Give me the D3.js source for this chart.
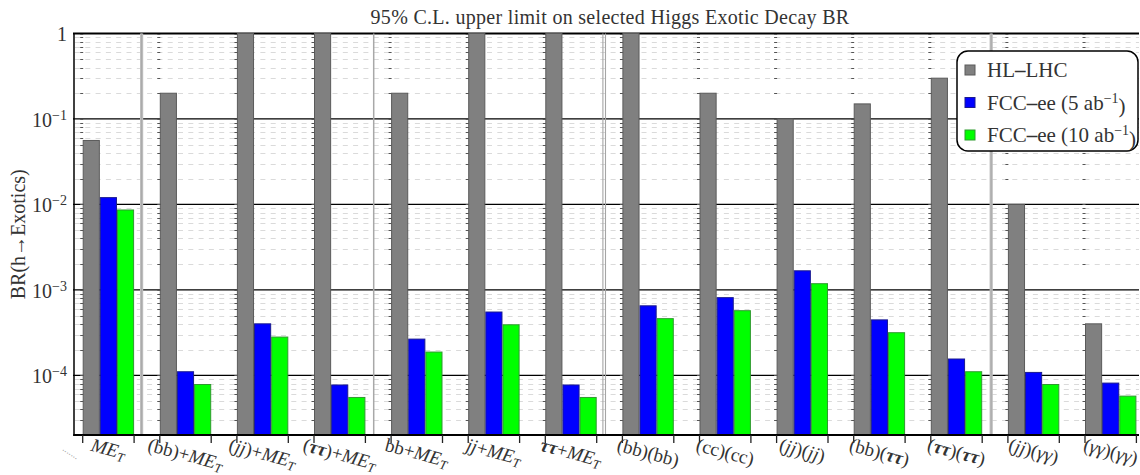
<!DOCTYPE html>
<html>
<head>
<meta charset="utf-8">
<script src="https://cdn.jsdelivr.net/npm/d3@7"></script>
<style>
  body { margin: 0; background: #fff; }
  text { font-family: "Liberation Serif", "DejaVu Serif", serif; fill: #333; }
</style>
</head>
<body>
<svg id="chart"></svg>
<script>
// chart data
var categories = ['ME_T', '(bb)+ME_T', '(jj)+ME_T', '(ττ)+ME_T', 'bb+ME_T', 'jj+ME_T', 'ττ+ME_T',
	'(bb)(bb)', '(cc)(cc)', '(jj)(jj)', '(bb)(ττ)', '(ττ)(ττ)', '(jj)(γγ)', '(γγ)(γγ)'];
var seriesNames = ['HL–LHC', 'FCC–ee (5 ab⁻¹)', 'FCC–ee (10 ab⁻¹)'];
var hlLhc = [0.056, 0.2, 1, 1, 0.2, 1, 1, 1, 0.2, 0.1, 0.15, 0.3, 0.01, 4e-4];
var fcc5 = [0.012, 1.1e-4, 4e-4, 7.7e-5, 2.65e-4, 5.5e-4, 7.7e-5, 6.5e-4, 8.1e-4, 1.67e-3, 4.45e-4, 1.55e-4, 1.08e-4, 8.1e-5];
var fcc10 = [0.0086, 7.8e-5, 2.8e-4, 5.5e-5, 1.87e-4, 3.9e-4, 5.5e-5, 4.6e-4, 5.7e-4, 1.18e-3, 3.15e-4, 1.1e-4, 7.8e-5, 5.7e-5];
var majorTicks = [1e-4, 1e-3, 1e-2, 1e-1, 1];
var tickExponents = ['−4', '−3', '−2', '−1', ''];
var separatorsAfter = [0, 3, 6, 11];   // group separators (vertical lines)

var width = 1140;
var height = 475;

var svg = d3.select('#chart')
	.attr('width', width)
	.attr('height', height);

// plot box (note: "top" is taken by window.top)
var pLeft = 74, pRight = 1139, pTop = 33.5, pBottom = 435;

// log y scale, 2e-5 .. 1
var y = d3.scaleLog()
	.domain([2e-5, 1])
	.range([pBottom, pTop]);

// outer band: categories, inner band: series
var x = d3.scaleBand()
	.domain(categories)
	.range([82.7, 1136.4])
	.paddingInner(1 / 3)
	.paddingOuter(0);

var xs = d3.scaleBand()
	.domain([0, 1, 2])
	.range([0, x.bandwidth()]);

var fills = ['#808080', '#0000ff', '#00ff00'];
var strokes = ['#5a5a5a', '#1a1a90', '#2f9a2f'];

var rows = categories.map(function(c, i) {
	return { cat: c, values: [hlLhc[i], fcc5[i], fcc10[i]] };
});

// title
svg.append('text')
	.attr('x', 610)
	.attr('y', 24)
	.attr('text-anchor', 'middle')
	.style('font-size', '20px')
	.style('letter-spacing', '0.3px')
	.text('95% C.L. upper limit on selected Higgs Exotic Decay BR');

// minor grid (dashed)
var minor = [];
for (var e = -5; e < 0; e++) {
	for (var m = 2; m <= 9; m++) {
		var v = m * Math.pow(10, e);
		if (v >= 2e-5 && v < 1) minor.push(v);
	}
}
svg.append('g')
	.selectAll('line')
	.data(minor)
	.join('line')
	.attr('x1', pLeft + 1)
	.attr('x2', pRight)
	.attr('y1', function(d) { return Math.round(y(d)) + 0.5; })
	.attr('y2', function(d) { return Math.round(y(d)) + 0.5; })
	.attr('stroke', '#dadada')
	.attr('stroke-width', 1)
	.attr('stroke-dasharray', '5,5.3');

// major grid
svg.append('g')
	.selectAll('line')
	.data(majorTicks)
	.join('line')
	.attr('x1', pLeft - 1)
	.attr('x2', pRight)
	.attr('y1', function(d) { return y(d); })
	.attr('y2', function(d) { return y(d); })
	.attr('stroke', '#000')
	.attr('stroke-width', function(d) { return d === 1 ? 2 : 1.3; });

// separators
var sep = svg.append('g');
separatorsAfter.forEach(function(i, k) {
	var sx = x(categories[i]) + x.bandwidth() + 7.5 + (k === 3 ? 1.5 : 0) + (k === 1 ? 0.8 : 0);
	if (k === 1) {
		sep.append('line').attr('x1', sx).attr('x2', sx).attr('y1', pTop).attr('y2', pBottom)
			.attr('stroke', '#a8a8a8').attr('stroke-width', 1.5);
	} else if (k === 2) {
		[-1.3, 1.3].forEach(function(o) {
			sep.append('line').attr('x1', sx + o).attr('x2', sx + o).attr('y1', pTop).attr('y2', pBottom)
				.attr('stroke', '#a5a5a5').attr('stroke-width', 1.1);
		});
	} else {
		sep.append('line').attr('x1', sx).attr('x2', sx).attr('y1', pTop).attr('y2', pBottom)
			.attr('stroke', '#bdbdbd').attr('stroke-width', 3.2);
		sep.append('line').attr('x1', sx).attr('x2', sx).attr('y1', pTop).attr('y2', pBottom)
			.attr('stroke', '#a9a9a9').attr('stroke-width', 1);
	}
});

// bars
var groups = svg.append('g')
	.selectAll('g')
	.data(rows)
	.join('g')
	.attr('transform', function(d) { return 'translate(' + x(d.cat) + ',0)'; });

groups.selectAll('rect')
	.data(function(d) { return d.values; })
	.join('rect')
	.attr('x', function(d, i) { return xs(i) + 0.5; })
	.attr('y', function(d) { return y(d); })
	.attr('width', xs.bandwidth() - 1)
	.attr('height', function(d) { return pBottom - y(d); })
	.attr('fill', function(d, i) { return fills[i]; })
	.attr('stroke', function(d, i) { return strokes[i]; })
	.attr('stroke-width', 1);

// small tick marks at the left edge of every group
groups.selectAll('line.mk')
	.data(minor.concat(majorTicks))
	.join('line')
	.attr('class', 'mk')
	.attr('x1', -2.5)
	.attr('x2', 0.5)
	.attr('y1', function(d) { return Math.round(y(d)) + 0.5; })
	.attr('y2', function(d) { return Math.round(y(d)) + 0.5; })
	.attr('stroke', '#555')
	.attr('stroke-width', 1);

// frame
svg.append('line').attr('x1', pLeft).attr('x2', pLeft).attr('y1', pTop).attr('y2', pBottom + 1)
	.attr('stroke', '#000').attr('stroke-width', 1.5);
svg.append('line').attr('x1', pLeft - 0.75).attr('x2', pRight).attr('y1', pBottom).attr('y2', pBottom)
	.attr('stroke', '#000').attr('stroke-width', 2);

// y axis labels 10^n
var yAxis = d3.axisLeft(y)
	.tickValues(majorTicks)
	.tickSize(0)
	.tickPadding(7)
	.tickFormat('');
var gy = svg.append('g')
	.attr('transform', 'translate(' + pLeft + ',0)')
	.call(yAxis);
gy.select('.domain').remove();
gy.selectAll('.tick text')
	.each(function(d, i) {
		var t = d3.select(this)
			.attr('x', -7)
			.attr('dy', '0.36em')
			.style('font-size', '20px')
			.style('font-family', '"Liberation Serif", serif')
			.attr('fill', '#333');
		if (d === 1) {
			t.text('1');
		} else {
			t.append('tspan').text('10');
			t.append('tspan').attr('dy', '-0.5em').style('font-size', '14px').text(tickExponents[i]);
		}
	});

// y title
svg.append('text')
	.attr('transform', 'translate(25,' + ((pTop + pBottom) / 2) + ') rotate(-90)')
	.attr('text-anchor', 'middle')
	.style('font-size', '20px')
	.text('BR(h→Exotics)');

// x ticks at both edges of every group
var xt = [];
categories.forEach(function(c) { xt.push(x(c), x(c) + x.bandwidth()); });
svg.append('g')
	.selectAll('line')
	.data(xt)
	.join('line')
	.attr('x1', function(d) { return d; })
	.attr('x2', function(d) { return d; })
	.attr('y1', pBottom)
	.attr('y2', pBottom + 8)
	.attr('stroke', '#222')
	.attr('stroke-width', 1.3);

// x labels, rotated
function labelParts(s) {
	return s.split(/(ME|_T|jj|ττ|γγ)/).filter(function(p) { return p.length; });
}
var angle = 15;
svg.append('g')
	.selectAll('text')
	.data(categories)
	.join('text')
	.attr('text-anchor', 'middle')
	.style('font-size', '19px')
	.each(function(c) {
		var t = d3.select(this);
		labelParts(c).forEach(function(p) {
			if (p === '_T') {
				t.append('tspan').attr('dy', '0.25em').style('font-size', '13px').style('font-style', 'italic').text('T');
			} else {
				var ts = t.append('tspan').text(p);
				if (p === 'ME' || p === 'jj' || p === 'ττ' || p === 'γγ') ts.style('font-style', 'italic');
				if (p === 'ττ') ts.style('font-weight', 'bold');
			}
		});
	})
	.attr('transform', function(c) {
		var L = this.getComputedTextLength();
		var cx = x(c) + x.bandwidth() / 2;
		var cy = 449 + (L / 2 - 18) * Math.sin(angle * Math.PI / 180);
		return 'translate(' + cx + ',' + cy + ') rotate(' + angle + ')';
	})
	.attr('dy', '0.33em');

// faint dots where the empty first label sits
svg.append('text')
	.attr('transform', 'translate(62,450) rotate(33)')
	.style('font-size', '10px')
	.style('fill', '#aaa')
	.text('.......');

// legend
var lg = svg.append('g').attr('transform', 'translate(957,51)');
lg.append('rect')
	.attr('x', 0)
	.attr('y', 0)
	.attr('width', 181)
	.attr('height', 100)
	.attr('rx', 11)
	.attr('fill', '#fff')
	.attr('stroke', '#000')
	.attr('stroke-width', 1.5);
var li = lg.selectAll('g.item')
	.data(seriesNames)
	.join('g')
	.attr('class', 'item')
	.attr('transform', function(d, i) { return 'translate(0,' + (19 + i * 32.5) + ')'; });
li.append('rect')
	.attr('x', 8)
	.attr('y', -5)
	.attr('width', 10)
	.attr('height', 10)
	.attr('fill', function(d, i) { return fills[i]; })
	.attr('stroke', function(d, i) { return strokes[i]; });
li.append('text')
	.attr('x', 30)
	.attr('y', 7)
	.style('font-size', '21px')
	.each(function(d) {
		var t = d3.select(this);
		var parts = d.split('–');
		t.append('tspan').text(parts[0]);
		t.append('tspan').style('font-weight', 'bold').text('–');
		var rest = parts[1];
		var k = rest.indexOf('⁻¹');
		if (k < 0) {
			t.append('tspan').text(rest);
		} else {
			t.append('tspan').text(rest.slice(0, k));
			t.append('tspan').attr('dy', '-0.5em').style('font-size', '14px').text('−1');
			t.append('tspan').attr('dy', '0.5em').text(rest.slice(k + 2));
		}
	});
</script>
</body>
</html>
